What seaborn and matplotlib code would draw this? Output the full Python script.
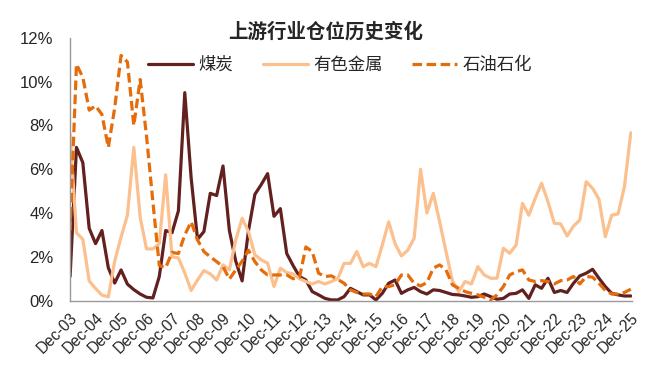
import numpy as np
import pandas as pd
import matplotlib
matplotlib.use('Agg')
import matplotlib.pyplot as plt
import seaborn as sns

sns.set_style('white')
plt.rcParams['font.family'] = ['Liberation Sans', 'Noto Sans CJK SC', 'DejaVu Sans']

# quarterly positions, Dec-03 .. Dec-25
years = [f"Dec-{y:02d}" for y in range(3, 26)]

coal = [1.1, 7.0, 6.3, 3.3, 2.6, 3.2, 1.5, 0.8, 1.4, 0.75, 0.5, 0.3, 0.15, 0.12, 1.1, 3.2,
        3.1, 4.1, 9.5, 5.6, 2.8, 3.15, 4.9, 4.8, 6.15, 3.2, 1.8, 0.9, 3.2, 4.85, 5.3, 5.8,
        3.85, 4.2, 2.15, 1.6, 1.1, 0.94, 0.41, 0.26, 0.1, 0.03, 0.03, 0.18, 0.56, 0.41, 0.26, 0.26,
        0.03, 0.33, 0.79, 0.94, 0.33, 0.49, 0.6, 0.41, 0.3, 0.49, 0.46, 0.37, 0.28, 0.26, 0.21, 0.15,
        0.18, 0.3, 0.18, 0.06, 0.1, 0.3, 0.33, 0.49, 0.1, 0.72, 0.56, 1.02, 0.37, 0.46, 0.37, 0.79,
        1.13, 1.25, 1.43, 1.02, 0.64, 0.33, 0.26, 0.21, 0.21]

metals = [7.6, 3.1, 2.8, 0.9, 0.55, 0.25, 0.17, 1.8, 2.9, 3.9, 7.0, 3.8, 2.36, 2.36, 2.6, 5.75,
          2.0, 1.95, 1.26, 0.46, 0.94, 1.37, 1.22, 0.94, 1.63, 1.4, 2.77, 3.76, 3.15, 2.09, 1.86, 1.71,
          0.64, 1.48, 1.28, 1.22, 1.0, 0.87, 0.76, 0.87, 0.76, 0.87, 1.0, 1.7, 1.7, 2.24, 1.55, 1.7,
          1.55, 2.54, 3.6, 2.6, 2.04, 2.3, 2.85, 6.0, 4.0, 4.9, 3.6, 2.24, 0.9, 0.41, 0.87, 0.76,
          1.55, 1.17, 1.02, 1.02, 2.39, 2.16, 2.54, 4.44, 3.9, 4.67, 5.36, 4.52, 3.53, 3.5, 2.95, 3.4,
          3.68, 5.43, 5.13, 4.63, 2.92, 3.9, 3.96, 5.2, 7.67]

petro = [3.2, 10.8, 10.2, 8.7, 8.9, 8.5, 7.0, 8.8, 11.2, 10.9, 8.0, 10.1, 7.5, 4.5, 1.6, 1.5,
         2.2, 2.15, 3.0, 3.6, 2.77, 2.24, 2.0, 1.78, 1.55, 0.98, 1.4, 1.8, 2.3, 1.78, 1.4, 1.17,
         1.17, 1.17, 1.17, 1.0, 1.05, 2.45, 2.24, 1.25, 1.1, 1.13, 0.97, 0.79, 0.49, 0.37, 0.3, 0.3,
         0.18, 0.64, 0.64, 0.72, 1.17, 1.17, 0.79, 0.67, 0.82, 1.48, 1.63, 1.4, 0.72, 0.56, 0.41, 0.33,
         0.26, 0.15, 0.03, 0.26, 0.64, 1.17, 1.32, 1.4, 0.94, 0.87, 0.91, 0.87, 0.76, 0.91, 0.94, 1.1,
         0.76, 1.1, 1.07, 0.79, 0.46, 0.3, 0.3, 0.37, 0.52]

q = np.arange(len(coal))
df = pd.DataFrame({'q': q, '煤炭': coal, '有色金属': metals, '石油石化': petro})

fig, ax = plt.subplots(figsize=(6.55, 3.72), dpi=100)
fig.subplots_adjust(left=0.107, right=0.965, top=0.898, bottom=0.192)

sns.lineplot(data=df, x='q', y='煤炭', ax=ax, color='#62201F', linewidth=2.3, label='煤炭')
sns.lineplot(data=df, x='q', y='有色金属', ax=ax, color='#FBC08E', linewidth=2.3, label='有色金属')
sns.lineplot(data=df, x='q', y='石油石化', ax=ax, color='#E46C0A', linewidth=2.3,
             linestyle=(0, (3.0, 1.4)), label='石油石化')

ax.set_xlim(0, 88.2)
ax.set_ylim(0, 12)
ax.set_yticks(range(0, 13, 2))
ax.set_yticklabels([f"{v}%" for v in range(0, 13, 2)], fontsize=12)
ax.set_xticks(range(0, 89, 4))
ax.set_xticklabels(years, rotation=45, ha='right', rotation_mode='anchor', fontsize=11.2)
ax.set_xlabel('')
ax.set_ylabel('')

for s in ['top', 'right']:
    ax.spines[s].set_visible(False)
for s in ['left', 'bottom']:
    ax.spines[s].set_color('#999999')
    ax.spines[s].set_linewidth(1)
ax.tick_params(axis='both', direction='out', length=4, color='#999999', width=1)
ax.tick_params(axis='y', pad=8)
ax.tick_params(axis='x', pad=3)

ax.legend(loc='upper center', bbox_to_anchor=(0.48, 0.99), ncol=3, frameon=False,
          handlelength=2.6, columnspacing=1.7, handletextpad=0.3,
          prop={'family': ['Noto Sans CJK SC'], 'size': 12.5})

ax.set_title('上游行业仓位历史变化', fontsize=14, fontweight='bold',
             family=['Noto Sans CJK SC'], pad=0, x=0.455)

plt.savefig('out.png', dpi=100)
